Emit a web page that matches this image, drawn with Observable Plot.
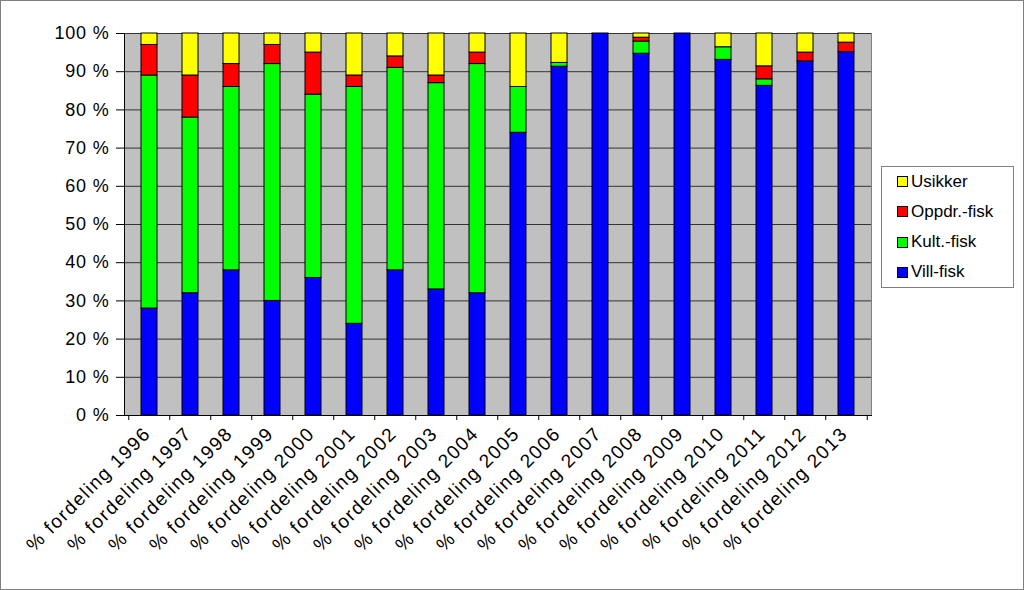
<!DOCTYPE html>
<html>
<head>
<meta charset="utf-8">
<script src="https://cdn.jsdelivr.net/npm/d3@7"></script>
<script src="https://cdn.jsdelivr.net/npm/@observablehq/plot@0.6"></script>
<style>
  body { margin: 0; background: #fff; }
  #wrap { position: relative; width: 1024px; height: 590px; overflow: hidden; font-family: "Liberation Sans", Arial, sans-serif; background: #fff; }
  #chart { position: absolute; left: 0; top: 0; }
  #chart g[aria-label="x-axis tick label"] { letter-spacing: 1.5px; }
  #chart g[aria-label="y-axis tick label"] { letter-spacing: 0.8px; }
  #border { position: absolute; left: 0; top: 0; width: 1024px; height: 590px; box-sizing: border-box; border: 1px solid #808080; pointer-events: none; }
  #legend { position: absolute; left: 881px; top: 166px; width: 133px; height: 122px; box-sizing: border-box; border: 1px solid #808080; background: #fff; }
  .item { position: absolute; left: 15px; height: 20px; display: flex; align-items: center; font-size: 17px; color: #000; white-space: nowrap; }
  .sw { width: 9px; height: 9px; border: 1px solid #000; margin-right: 3px; }
</style>
</head>
<body>
<div id="wrap">
  <div id="chart"></div>
  <div id="legend"></div>
  <div id="border"></div>
</div>
<script>
// ---- data ----
const years = ["1996","1997","1998","1999","2000","2001","2002","2003","2004","2005","2006","2007","2008","2009","2010","2011","2012","2013"];
const categories = years.map(y => "% fordeling " + y);
const series = ["Vill-fisk", "Kult.-fisk", "Oppdr.-fisk", "Usikker"];
const seriesColors = ["#0000FF", "#00FF00", "#FF0000", "#FFFF00"];
const vill    = [28, 32, 38, 30, 36, 24, 38, 33, 32, 74, 91.3, 100, 94.7, 100, 93.1, 86.3, 92.7, 95.1];
const kult    = [61, 46, 48, 62, 48, 62, 53, 54, 60, 12, 1.0,  0,   3.2,  0,   3.3,  1.7,  0,    0];
const oppdr   = [8,  11, 6,  5,  11, 3,  3,  2,  3,  0,  0,    0,   1.0,  0,   0,    3.4,  2.3,  2.5];
const usikker = [3,  11, 8,  3,  5,  11, 6,  11, 5,  14, 7.7,  0,   1.1,  0,   3.6,  8.6,  5,    2.4];
const yTicks = [0, 10, 20, 30, 40, 50, 60, 70, 80, 90, 100];
const legendOrder = ["Usikker", "Oppdr.-fisk", "Kult.-fisk", "Vill-fisk"];

// ---- build table ----
const valueArrays = [vill, kult, oppdr, usikker];
const data = [];
categories.forEach((c, i) => {
  valueArrays.forEach((arr, j) => {
    if (arr[i] > 0) data.push({cat: c, series: series[j], value: arr[i]});
  });
});

const W = 1024, H = 590;
const mL = 124, mR = 153, mT = 33, mB = 175;
const step = (W - mL - mR) / categories.length;

const chart = Plot.plot({
  width: W, height: H,
  marginLeft: mL, marginRight: mR, marginTop: mT, marginBottom: mB,
  style: {fontFamily: '"Liberation Sans", Arial, sans-serif', fontSize: "17px", color: "#000", background: "transparent"},
  x: {domain: categories, paddingInner: 0.6, paddingOuter: 0.3, label: null},
  y: {domain: [0, 100], label: null},
  color: {domain: series, range: seriesColors},
  marks: [
    Plot.frame({fill: "#C0C0C0", stroke: "#808080"}),
    Plot.gridY(yTicks.slice(1), {stroke: "#333", strokeOpacity: 1}),
    Plot.barY(data, {x: "cat", y: "value", fill: "series", order: series, stroke: "#000", strokeWidth: 1}),
    Plot.frame({anchor: "left", stroke: "#000"}),
    Plot.frame({anchor: "bottom", stroke: "#000"}),
    Plot.axisY(yTicks, {tickSize: 8, tickPadding: 7, tickFormat: d => d + " %", fontSize: 18}),
    Plot.axisX({tickSize: 0, tickRotate: -45, tickPadding: 15, dx: -2, fontSize: 19}),
    Plot.axisX({tickSize: 5, tickFormat: () => "", dx: -step / 2}),
    Plot.axisX([categories[categories.length - 1]], {tickSize: 5, tickFormat: () => "", dx: step / 2})
  ]
});
document.getElementById("chart").appendChild(chart);

// ---- legend ----
const legend = document.getElementById("legend");
const rowCenters = [15.7, 45.7, 76.3, 106.3];
legendOrder.forEach((name, k) => {
  const it = document.createElement("div");
  it.className = "item";
  it.style.top = (rowCenters[k] - 11) + "px";
  const sw = document.createElement("div");
  sw.className = "sw";
  sw.style.background = seriesColors[series.indexOf(name)];
  const tx = document.createElement("span");
  tx.textContent = name;
  it.appendChild(sw);
  it.appendChild(tx);
  legend.appendChild(it);
});
</script>
</body>
</html>
